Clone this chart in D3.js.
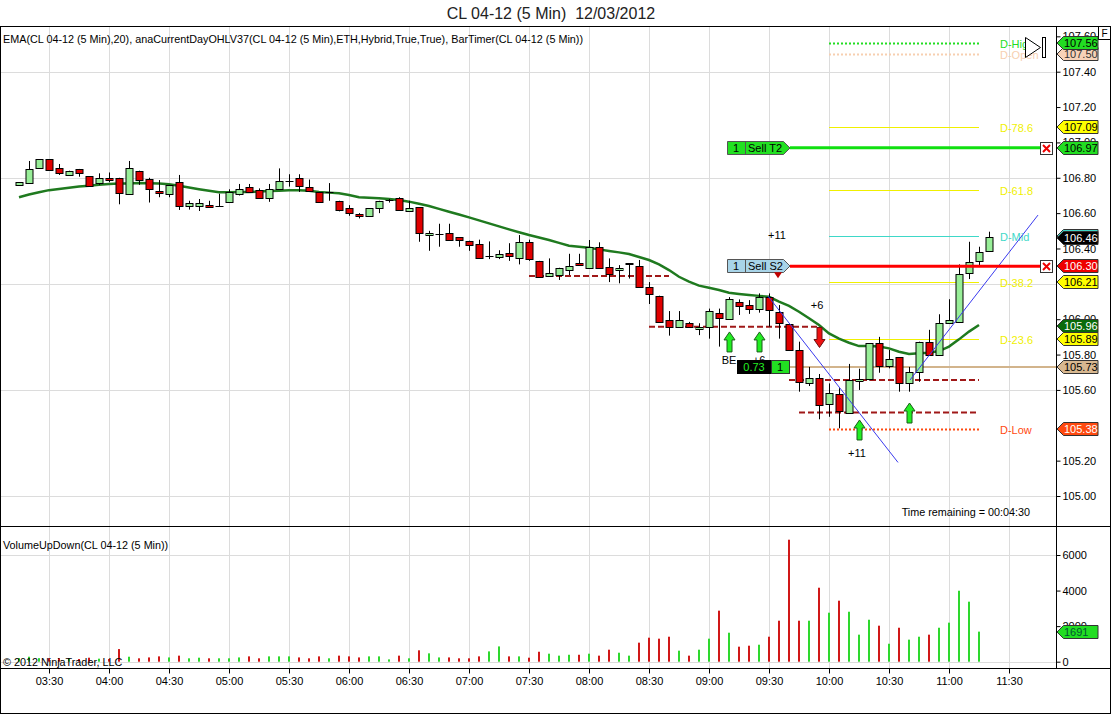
<!DOCTYPE html>
<html><head><meta charset="utf-8">
<script src="https://cdn.jsdelivr.net/npm/d3@7/dist/d3.min.js"></script>
<style>
body{margin:0;background:#fff;}
svg{display:block;font-family:"Liberation Sans",Arial,sans-serif;}
</style>
</head><body>
<svg id="c" width="1112" height="715"></svg>
<script>
// ---------------- DATA ----------------
const firstBarTime = "03:15:00";
const barMinutes = 5;
const opens  = [106.756,106.77,106.853,106.905,106.853,106.816,106.85,106.81,106.77,106.80,106.797,106.708,106.84,106.793,106.725,106.708,106.774,106.636,106.645,106.646,106.636,106.66,106.708,106.746,106.73,106.684,106.735,106.778,106.797,106.75,106.72,106.716,106.67,106.627,106.595,106.58,106.63,106.668,106.684,106.614,106.633,106.476,106.478,106.49,106.463,106.444,106.425,106.352,106.354,106.372,106.344,106.435,106.33,106.244,106.25,106.283,106.316,106.293,106.41,106.293,106.278,106.31,106.303,106.184,106.133,105.995,105.958,105.98,105.943,105.96,106.033,106.0,106.1,106.08,106.056,106.127,106.042,105.973,105.826,105.637,105.666,105.524,105.577,105.471,105.65,105.66,105.864,105.735,105.785,105.64,105.703,105.873,105.797,105.98,105.982,106.265,106.33,106.382];
const highs  = [106.774,106.895,106.905,106.905,106.878,106.84,106.85,106.81,106.825,106.83,106.80,106.895,106.84,106.80,106.787,106.76,106.816,106.67,106.68,106.67,106.71,106.735,106.765,106.765,106.74,106.765,106.853,106.82,106.82,106.79,106.72,106.77,106.67,106.645,106.60,106.627,106.67,106.68,106.69,106.67,106.633,106.50,106.54,106.54,106.463,106.444,106.45,106.44,106.39,106.43,106.476,106.45,106.33,106.344,106.291,106.37,106.37,106.448,106.435,106.344,106.306,106.316,106.335,106.21,106.133,106.046,106.046,105.985,105.977,106.06,106.06,106.125,106.112,106.108,106.146,106.146,106.08,105.973,105.873,105.73,105.69,105.637,105.61,105.747,105.72,105.864,105.90,105.826,105.785,105.73,105.873,105.94,106.028,106.113,106.31,106.438,106.41,106.495];
const lows   = [106.756,106.767,106.85,106.844,106.816,106.81,106.806,106.75,106.76,106.775,106.65,106.708,106.76,106.66,106.69,106.69,106.618,106.62,106.612,106.636,106.636,106.66,106.70,106.715,106.68,106.664,106.735,106.75,106.72,106.73,106.665,106.67,106.61,106.585,106.57,106.58,106.60,106.66,106.614,106.614,106.438,106.387,106.41,106.452,106.41,106.387,106.344,106.34,106.34,106.33,106.31,106.33,106.24,106.244,106.222,106.25,106.303,106.293,106.293,106.21,106.203,106.23,106.18,106.086,105.98,105.907,105.958,105.955,105.91,105.89,105.845,106.0,106.024,106.03,106.037,105.958,105.89,105.82,105.59,105.622,105.434,105.448,105.383,105.471,105.60,105.653,105.697,105.722,105.59,105.59,105.646,105.797,105.797,105.98,105.982,106.227,106.30,106.382];
const closes = [106.774,106.85,106.904,106.844,106.825,106.84,106.825,106.753,106.797,106.787,106.712,106.853,106.787,106.735,106.712,106.76,106.636,106.655,106.66,106.636,106.64,106.718,106.735,106.72,106.684,106.735,106.783,106.782,106.75,106.73,106.665,106.72,106.618,106.60,106.585,106.627,106.67,106.672,106.614,106.63,106.486,106.49,106.482,106.452,106.444,106.424,106.344,106.356,106.369,106.354,106.435,106.34,106.24,106.263,106.291,106.303,106.303,106.41,106.293,106.256,106.29,106.316,106.184,106.146,105.986,105.958,105.995,105.958,105.957,106.048,106.005,106.114,106.075,106.056,106.124,106.056,105.98,105.826,105.643,105.666,105.515,105.584,105.48,105.656,105.66,105.864,105.735,105.773,105.64,105.703,105.873,105.797,105.977,105.995,106.254,106.325,106.38,106.463];
// EMA(20) (computed on bar close: one value fewer than bars)
const ema20 = [106.69,106.705,106.718,106.73,106.737,106.744,106.75,106.755,106.76,106.765,106.767,106.768,106.77,106.769,106.767,106.763,106.755,106.745,106.735,106.726,106.718,106.718,106.719,106.72,106.722,106.725,106.727,106.729,106.73,106.726,106.72,106.716,106.712,106.703,106.69,106.687,106.684,106.68,106.674,106.665,106.653,106.64,106.624,106.608,106.592,106.576,106.559,106.542,106.525,106.508,106.492,106.476,106.462,106.448,106.432,106.416,106.41,106.404,106.395,106.386,106.378,106.369,106.352,106.335,106.31,106.278,106.24,106.212,106.19,106.178,106.165,106.15,106.143,106.137,106.132,106.127,106.1,106.075,106.042,106.005,105.967,105.92,105.89,105.867,105.848,105.848,105.845,105.835,105.816,105.803,105.807,105.81,105.82,105.845,105.886,105.93,105.967];
// VolumeUpDown (computed on bar close)
const volumes = [200,280,200,200,200,150,150,225,170,150,710,280,190,240,300,240,340,190,225,190,190,190,240,300,190,300,300,300,240,190,300,190,340,300,240,300,300,130,340,190,640,470,240,240,190,190,300,580,860,300,300,225,560,450,340,390,390,450,340,675,505,340,1070,1350,1295,1405,620,340,675,1295,2870,1630,845,900,955,1405,2305,6860,2305,2305,4160,2755,3430,2810,1520,2360,2025,1010,1910,1240,1405,1520,1910,2195,3990,3375,1691];

// tick labels (105.40 and 106.20 lie fully under axis tags in the original)
const priceTicks  = [105.00,105.20,105.60,105.80,106.00,106.40,106.60,106.80,107.00,107.20,107.40,107.60];
const priceGrid   = [105.00,105.60,106.20,106.80,107.40];
const volumeTicks = [0,2000,4000,6000];
const volumeGrid  = [0,6000];
const timeTicks   = ["03:30","04:00","04:30","05:00","05:30","06:00","06:30","07:00","07:30","08:00","08:30","09:00","09:30","10:00","10:30","11:00","11:30"];

// anaCurrentDayOHL levels
const levelNames  = ["D-High","D-Open","D-78.6","D-61.8","D-Mid","D-38.2","D-23.6","D-Low"];
const levelPrices = [107.56,107.50,107.09,106.73,106.47,106.21,105.89,105.38];
const levelColors = ["#22dd22","#f7cfb0","#f0f000","#f0f000","#3ed8c8","#f0f000","#f0f000","#ff4a10"];
const levelDashes = ["2,2","2,2",null,null,null,null,null,"2,2"];
const levelStart = "10:00:00", levelEnd = "11:15:00", levelLabelTime = "11:25:30";

// dashed support/resistance lines [price, from, to]
const srPrices = [106.244,105.957,105.656,105.473];
const srFrom   = ["07:30:00","08:30:00","09:40:00","09:45:00"];
const srTo     = ["08:40:00","09:55:00","11:15:00","11:15:00"];

// trend lines
const trendFrom = [["09:29:30",106.131],["10:40:30",105.656]];
const trendTo   = [["10:34:30",105.19],["11:44:30",106.589]];

// chart trader orders
const orderPrices = [106.97,106.30];
const orderNames  = ["Sell T2","Sell S2"];
const orderFills  = ["#22e022","#a8d4e8"];
const orderLines  = ["#10e010","#ff0000"];
const entryPrice = 105.73, entryPnl = "0.73", entryQty = "1";

// signal arrows [bar time, price of tip]
const upArrowTimes  = ["09:10:00","09:25:00","10:15:00","10:40:00"];
const upArrowPrices = [105.928,105.928,105.43,105.526];
const downArrowTimes  = ["09:55:00"];
const downArrowPrices = [105.84];
const noteTexts  = ["BE","+6","+11","+6","+11"];
const noteTimes  = ["09:10:00","09:25:00","10:14:00","09:54:00","09:34:00"];
const notePrices = [105.77,105.77,105.243,106.08,106.476];

// axis price tags [value, fill, text color]
const tagValues = [107.50,107.56,107.09,106.97,106.47,106.46,106.30,106.21,105.96,105.89,105.73,105.38];
const tagFills  = ["#f7d2b8","#22dd22","#ffff00","#22dd22","#3ed8c8","#000000","#ee0000","#ffff00","#0a6a0a","#ffff00","#d8b890","#ff4a10"];
const tagText   = ["#333","#000","#000","#000","#000","#fff","#fff","#000","#fff","#000","#000","#fff"];
const volumeTag = 1691;

// ---------------- CHART ----------------
const svg = d3.select("#c");
const P = d3.timeParse("%H:%M:%S");
const t0 = P(firstBarTime);
const times = opens.map((_, i) => d3.timeMinute.offset(t0, barMinutes * i));

const L = 0.5, R = 1110.5, TOP = 26.5, BOT = 713.5, AX = 1056.5, SEP = 526.5, VB = 668.5;
const x  = d3.scaleTime().domain([P("03:30:00"), P("11:30:00")]).range([49, 1009]);
const yP = d3.scaleLinear().domain([105, 107.4]).range([496, 71.7]);
const yV = d3.scaleLinear().domain([0, 6000]).range([661.7, 555]);
const tk = timeTicks.map(s => P(s + ":00"));

const px = v => Math.round(v) + 0.5;

// title
svg.append("text").attr("x", 551).attr("y", 19).attr("text-anchor", "middle")
  .attr("font-size", 16).attr("fill", "#222").text("CL 04-12 (5 Min)\u00a0 12/03/2012");

// grids
const grid = svg.append("g").attr("stroke", "#dcdcdc").attr("stroke-width", 1);
tk.forEach(t => {
  grid.append("line").attr("x1", px(x(t))).attr("x2", px(x(t))).attr("y1", TOP).attr("y2", SEP);
  grid.append("line").attr("x1", px(x(t))).attr("x2", px(x(t))).attr("y1", SEP).attr("y2", VB);
});
priceGrid.forEach(p => grid.append("line").attr("x1", L).attr("x2", AX).attr("y1", px(yP(p))).attr("y2", px(yP(p))));
volumeGrid.forEach(v => grid.append("line").attr("x1", L).attr("x2", AX).attr("y1", px(yV(v))).attr("y2", px(yV(v))));

// plot labels
svg.append("text").attr("x", 3).attr("y", 43).attr("font-size", 10.8).attr("fill", "#000")
  .text("EMA(CL 04-12 (5 Min),20), anaCurrentDayOHLV37(CL 04-12 (5 Min),ETH,Hybrid,True,True), BarTimer(CL 04-12 (5 Min))");
svg.append("text").attr("x", 3).attr("y", 549).attr("font-size", 10.8).text("VolumeUpDown(CL 04-12 (5 Min))");

// day levels
levelNames.forEach((n, i) => {
  const y = px(yP(levelPrices[i]));
  svg.append("line").attr("x1", x(P(levelStart))).attr("x2", x(P(levelEnd))).attr("y1", y).attr("y2", y)
    .attr("stroke", levelColors[i]).attr("stroke-width", levelDashes[i] ? 2 : 1)
    .attr("stroke-dasharray", levelDashes[i]);
  svg.append("text").attr("x", x(P(levelLabelTime))).attr("y", y + 4).attr("font-size", 11)
    .attr("fill", levelColors[i]).text(n);
});

// S/R dashed lines
srPrices.forEach((p, i) => {
  svg.append("line").attr("x1", x(P(srFrom[i]))).attr("x2", x(P(srTo[i])))
    .attr("y1", yP(p)).attr("y2", yP(p)).attr("stroke", "#a01818").attr("stroke-width", 2)
    .attr("stroke-dasharray", "6,3");
});

// entry line
svg.append("line").attr("x1", 790).attr("x2", AX).attr("y1", yP(entryPrice)).attr("y2", yP(entryPrice))
  .attr("stroke", "#d2b48c").attr("stroke-width", 2);

// EMA
svg.append("path").datum(ema20).attr("fill", "none").attr("stroke", "#1f7a1f").attr("stroke-width", 2.5)
  .attr("d", d3.line().x((d, i) => x(times[i])).y(d => yP(d)));

// candles
const cg = svg.append("g");
opens.forEach((o, i) => {
  const c = closes[i], cx = px(x(times[i]));
  cg.append("line").attr("x1", cx).attr("x2", cx).attr("y1", yP(highs[i])).attr("y2", yP(lows[i]))
    .attr("stroke", "#000").attr("stroke-width", 1);
  const top = yP(Math.max(o, c)), bot = yP(Math.min(o, c));
  if (bot - top < 1) {
    cg.append("line").attr("x1", cx - 4).attr("x2", cx + 4).attr("y1", px(top)).attr("y2", px(top))
      .attr("stroke", "#000");
  } else {
    cg.append("rect").attr("x", cx - 3.5).attr("y", Math.round(top) + 0.5).attr("width", 7)
      .attr("height", Math.max(1, Math.round(bot - top))).attr("fill", c >= o ? "#98ee98" : "#e00000")
      .attr("stroke", "#000").attr("stroke-width", 1);
  }
});

// trend lines
trendFrom.forEach((f, i) => {
  svg.append("line").attr("x1", x(P(f[0]))).attr("y1", yP(f[1]))
    .attr("x2", x(P(trendTo[i][0]))).attr("y2", yP(trendTo[i][1]))
    .attr("stroke", "#3a3aee").attr("stroke-width", 1);
});

// order lines
orderPrices.forEach((p, i) => {
  const y = yP(p);
  svg.append("line").attr("x1", 790).attr("x2", 1040).attr("y1", y).attr("y2", y)
    .attr("stroke", orderLines[i]).attr("stroke-width", 3);
  const g = svg.append("g").attr("transform", `translate(727,${Math.round(y) - 7})`);
  g.append("path").attr("d", "M0.5,0.5H56.5L63,7L56.5,13.5H0.5Z").attr("fill", orderFills[i]).attr("stroke", "#555");
  g.append("line").attr("x1", 18.5).attr("x2", 18.5).attr("y1", 0.5).attr("y2", 13.5).attr("stroke", "#555");
  g.append("text").attr("x", 9).attr("y", 11).attr("font-size", 11).attr("text-anchor", "middle").text("1");
  g.append("text").attr("x", 21).attr("y", 11).attr("font-size", 11).text(orderNames[i]);
  const xg = svg.append("g").attr("transform", `translate(1040,${Math.round(y) - 6})`);
  xg.append("rect").attr("x", 0.5).attr("y", 0.5).attr("width", 12).attr("height", 12).attr("fill", "#fff").attr("stroke", "#333");
  xg.append("path").attr("d", "M3,3L10,10M10,3L3,10").attr("stroke", "#e00").attr("stroke-width", 2);
});
// small red marker under stop order
svg.append("path").attr("d", `M774,${yP(106.30) + 6}h8l-4,6z`).attr("fill", "#c00000");

// notes
noteTexts.forEach((t, i) => {
  svg.append("text").attr("x", x(P(noteTimes[i]))).attr("y", yP(notePrices[i]) + 4)
    .attr("text-anchor", "middle").attr("font-size", 11).text(t);
});

// entry box
{
  const y = Math.round(yP(entryPrice)) - 7;
  svg.append("rect").attr("x", 737).attr("y", y).attr("width", 34).attr("height", 14).attr("fill", "#000");
  svg.append("text").attr("x", 754).attr("y", y + 11).attr("text-anchor", "middle").attr("font-size", 11)
    .attr("fill", "#22ee22").text(entryPnl);
  svg.append("rect").attr("x", 771.5).attr("y", y + 0.5).attr("width", 18).attr("height", 13).attr("fill", "#22e022").attr("stroke", "#333");
  svg.append("text").attr("x", 780).attr("y", y + 11).attr("text-anchor", "middle").attr("font-size", 11).text(entryQty);
}

// arrows
const arrowUp = "M0,0L5.5,8H2.5V20H-2.5V8H-5.5Z";
upArrowTimes.forEach((t, i) => {
  svg.append("path").attr("transform", `translate(${px(x(P(t)))},${yP(upArrowPrices[i])})`)
    .attr("d", arrowUp).attr("fill", "#22ee22").attr("stroke", "#1a5a1a").attr("stroke-width", 1);
});
downArrowTimes.forEach((t, i) => {
  svg.append("path").attr("transform", `translate(${px(x(P(t)))},${yP(downArrowPrices[i])}) scale(1,-1)`)
    .attr("d", arrowUp).attr("fill", "#ee1111").attr("stroke", "#6a1010").attr("stroke-width", 1);
});

// volume bars
volumes.forEach((v, i) => {
  const cx = x(times[i]);
  svg.append("rect").attr("x", Math.round(cx) - 1).attr("y", yV(v)).attr("width", 2)
    .attr("height", yV(0) - yV(v)).attr("fill", closes[i] >= opens[i] ? "#2ed82e" : "#d01818");
});

svg.append("text").attr("x", 3).attr("y", 666).attr("font-size", 10.8).text("© 2012 NinjaTrader, LLC");
svg.append("text").attr("x", 1030).attr("y", 516).attr("text-anchor", "end").attr("font-size", 10.8).text("Time remaining = 00:04:30");

// playback glyph
svg.append("path").attr("d", "M1025.5,37.5V57.5L1040.5,47.5Z").attr("fill", "#fff").attr("stroke", "#000");
svg.append("rect").attr("x", 1042.5).attr("y", 37.5).attr("width", 3).attr("height", 20).attr("fill", "#fff").attr("stroke", "#000");

// frames
const fr = svg.append("g").attr("stroke", "#000").attr("fill", "none").attr("stroke-width", 1);
fr.append("rect").attr("x", L).attr("y", TOP).attr("width", R - L).attr("height", BOT - TOP);
fr.append("line").attr("x1", L).attr("x2", R).attr("y1", SEP).attr("y2", SEP);
fr.append("line").attr("x1", L).attr("x2", R).attr("y1", VB).attr("y2", VB);
fr.append("line").attr("x1", AX).attr("x2", AX).attr("y1", TOP).attr("y2", VB);
svg.append("rect").attr("x", 1098.5).attr("y", TOP).attr("width", 12).attr("height", 13).attr("fill", "#fff").attr("stroke", "#000");
svg.append("text").attr("x", 1104.5).attr("y", 37).attr("text-anchor", "middle").attr("font-size", 10).text("F");

// axes
const pa = svg.append("g").attr("transform", `translate(${AX},0)`)
  .call(d3.axisRight(yP).tickValues(priceTicks).tickSize(4).tickPadding(2).tickFormat(d3.format(".2f")));
const va = svg.append("g").attr("transform", `translate(${AX},0)`)
  .call(d3.axisRight(yV).tickValues(volumeTicks).tickSize(4).tickPadding(2).tickFormat(d3.format("d")));
const ta = svg.append("g").attr("transform", `translate(0,${VB})`)
  .call(d3.axisBottom(x).tickValues(tk).tickSize(5).tickPadding(4).tickFormat(d3.timeFormat("%H:%M")));
[pa, va, ta].forEach(a => {
  a.select(".domain").remove();
  a.selectAll("text").attr("font-size", 11).attr("fill", "#000").attr("font-family", "Liberation Sans, Arial, sans-serif");
  a.selectAll("line").attr("stroke", "#000");
});

// tags
function tag(yv, fill, tcol, label) {
  const y = Math.round(yv);
  const g = svg.append("g").attr("transform", `translate(${AX},${y})`);
  g.append("path").attr("d", "M0.5,0L7,-6.5H41.5V6.5H7Z").attr("fill", fill).attr("stroke", "#333");
  g.append("text").attr("x", 7.5).attr("y", 4).attr("font-size", 11).attr("fill", tcol).text(label);
}
tagValues.forEach((v, i) => tag(yP(v), tagFills[i], tagText[i], d3.format(".2f")(v)));
tag(yV(volumeTag), "#22dd22", "#053", String(volumeTag));
</script>
</body></html>
